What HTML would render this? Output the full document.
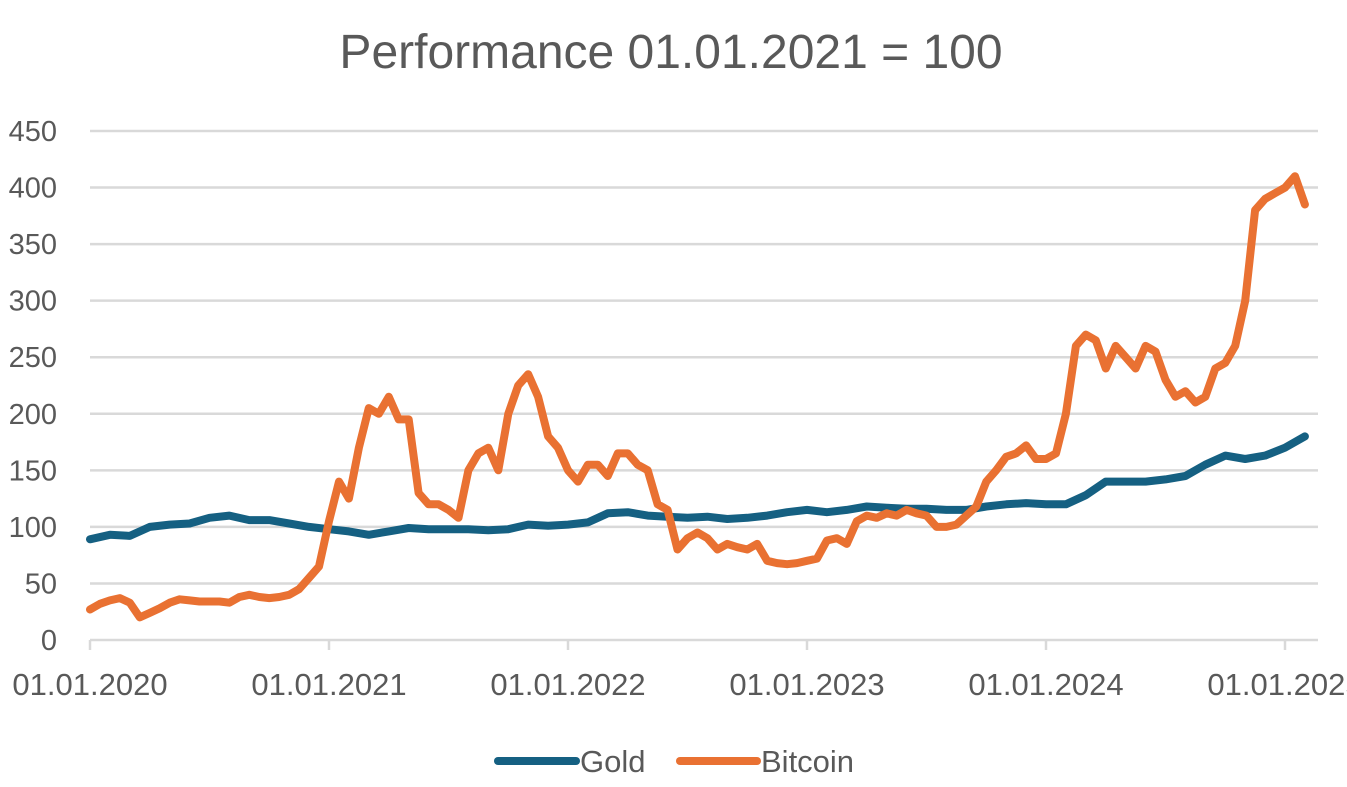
<!DOCTYPE html>
<html><head><meta charset="utf-8"><style>
body{margin:0;background:#fff;font-family:"Liberation Sans",sans-serif;overflow:hidden}
</style></head><body>
<svg id="chart" width="1347" height="782" xmlns="http://www.w3.org/2000/svg" font-family="Liberation Sans, sans-serif">
<text x="671" y="-4" font-size="48" fill="#595959" text-anchor="middle">Gold vs Bitcoin</text>
<text x="671" y="68" font-size="48" fill="#595959" text-anchor="middle">Performance 01.01.2021 = 100</text>
<g id="grid"></g><g id="axes"></g><g id="series"></g>
<g>
<line x1="498" y1="761" x2="576" y2="761" stroke="#156082" stroke-width="8" stroke-linecap="round"/>
<text x="580" y="772" font-size="31" fill="#595959">Gold</text>
<line x1="680" y1="761" x2="757" y2="761" stroke="#E97132" stroke-width="8" stroke-linecap="round"/>
<text x="761" y="772" font-size="31" fill="#595959">Bitcoin</text>
</g>
</svg>
<script>
const yTicks=[0,50,100,150,200,250,300,350,400,450];
const xTickYears=[2020,2021,2022,2023,2024,2025];
const xTickLabels=["01.01.2020","01.01.2021","01.01.2022","01.01.2023","01.01.2024","01.01.2025"];
// Bitcoin: roughly every half month from 2020-01-01
const bitcoin=[27,32,35,37,33,20,24,28,33,36,35,34,34,34,33,38,40,38,37,38,40,45,55,65,
105,140,125,170,205,200,215,195,195,130,120,120,115,108,150,165,170,150,200,225,235,215,180,170,
150,140,155,155,145,165,165,155,150,120,115,80,90,95,90,80,85,82,80,85,70,68,67,68,
70,72,88,90,85,105,110,108,112,110,115,112,110,100,100,102,110,118,140,150,162,165,172,160,
160,165,200,260,270,265,240,260,250,240,260,255,230,215,220,210,215,240,245,260,300,380,390,395,
400,410,385];
// Gold: monthly from 2020-01-01
const gold=[89,93,92,100,102,103,108,110,106,106,103,100,
98,96,93,96,99,98,98,98,97,98,102,101,
102,104,112,113,110,109,108,109,107,108,110,113,
115,113,115,118,117,116,116,115,115,118,120,121,
120,120,128,140,140,140,142,145,155,163,160,163,
170,180];
const NS="http://www.w3.org/2000/svg";
const x0=90,pxPerYear=239,yBase=640,pxPerUnit=509/450;
const xs=t=>x0+(t-2020)*pxPerYear;
const ys=v=>yBase-v*pxPerUnit;
const grid=document.getElementById('grid'),axes=document.getElementById('axes'),ser=document.getElementById('series');
yTicks.forEach(v=>{
 const l=document.createElementNS(NS,'line');
 
 
 l.setAttribute('x1',x0);l.setAttribute('x2',1318);l.setAttribute('y1',ys(v));l.setAttribute('y2',ys(v));
 l.setAttribute('stroke','#d9d9d9');l.setAttribute('stroke-width','2.5');grid.appendChild(l);
 const t=document.createElementNS(NS,'text');
 
 
 t.setAttribute('x',57);t.setAttribute('y',ys(v)+10);t.setAttribute('font-size','29');t.setAttribute('fill','#595959');t.setAttribute('text-anchor','end');
 t.textContent=v;axes.appendChild(t);
});
xTickYears.forEach((yr,i)=>{
 const l=document.createElementNS(NS,'line');
 
 
 l.setAttribute('x1',xs(yr));l.setAttribute('x2',xs(yr));l.setAttribute('y1',yBase);l.setAttribute('y2',yBase+10);
 l.setAttribute('stroke','#d9d9d9');l.setAttribute('stroke-width','2.5');axes.appendChild(l);
 const t=document.createElementNS(NS,'text');
 
 
 t.setAttribute('x',xs(yr));t.setAttribute('y',695);t.setAttribute('font-size','31');t.setAttribute('fill','#595959');t.setAttribute('text-anchor','middle');
 t.textContent=xTickLabels[i];axes.appendChild(t);
});
function drawLine(vals,step,color,name){
 const p=document.createElementNS(NS,'polyline');
 
 
 p.setAttribute('points',vals.map((v,i)=>xs(2020+i*step).toFixed(1)+','+ys(v).toFixed(1)).join(' '));
 p.setAttribute('fill','none');p.setAttribute('stroke',color);p.setAttribute('stroke-width','8');
 p.setAttribute('stroke-linejoin','round');p.setAttribute('stroke-linecap','round');
 ser.appendChild(p);
}
drawLine(gold,1/12,'#156082','gold-line');
drawLine(bitcoin,1/24,'#E97132','bitcoin-line');
</script>
</body></html>
